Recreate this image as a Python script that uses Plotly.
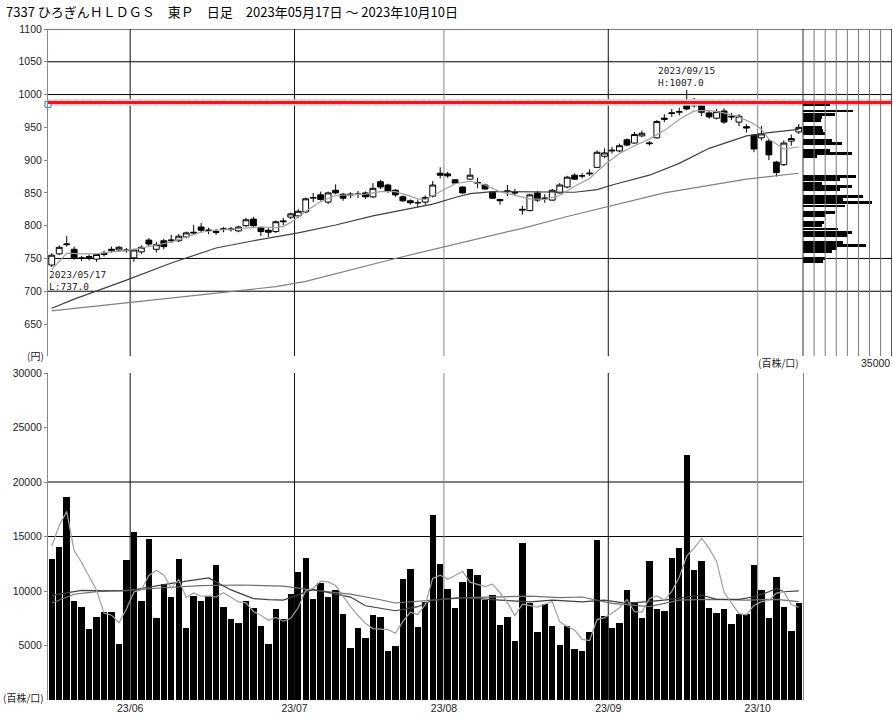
import numpy as np
import pandas as pd
import plotly.graph_objects as go

# ---------------- data ----------------
holidays = ["2023-07-17", "2023-08-11", "2023-09-18", "2023-10-09"]
dates = [d for d in pd.bdate_range("2023-05-17", "2023-10-10")
         if d.strftime("%Y-%m-%d") not in holidays]

open_ = [740,757,771,764,751,750,749,756,762,763, 763,751,760,778,764,777,777,777,783,790,
         798,793,791,794,794,792,800,810,797,793, 791,806,813,815,821,842,847,836,854,848,
         847,848,850,844,867,862,854,844,838,835, 836,845,880,879,870,859,871,866,862,851,
         840,852,851,825,823,850,841,839,850,859, 877,876,879,889,906,914,914,931,926,937,
         925,934,962,971,973,987,983,986,972,964, 975,967,958,951,938,934,929,897,893,929,
         943]
high = [758,770,784,768,754,756,757,762,768,769, 766,765,770,781,775,780,786,787,791,801,
        804,797,795,798,798,800,812,813,799,796, 808,812,820,825,843,850,852,852,863,850,
        851,853,852,865,870,864,856,846,840,840, 846,868,889,882,871,860,888,873,864,852,
        841,862,856,830,849,853,848,856,865,876, 880,880,886,915,918,920,925,933,943,945,
        929,961,970,978,980,1007,995,990,976,978, 979,972,970,955,940,952,932,899,930,939,
        955]
low = [737,755,768,748,746,747,745,753,759,760, 759,745,757,769,759,764,774,775,781,786,
       790,787,786,790,791,790,798,797,784,783, 789,801,810,812,819,836,838,833,848,838,
       842,842,841,842,856,850,844,836,832,828, 832,843,872,873,864,849,870,857,855,841,
       832,845,846,817,822,836,835,838,849,857, 870,872,876,888,903,910,912,921,925,935,
       922,933,958,966,968,976,980,967,963,962, 955,961,952,942,912,930,900,875,891,922,
       940]
close = [755,767,772,751,750,753,756,758,764,767, 762,763,767,772,771,768,778,784,789,789,
         793,793,790,795,795,798,809,800,791,790, 806,807,818,822,841,843,840,850,850,842,
         848,848,844,857,859,853,847,838,835,835, 843,862,877,876,865,850,877,865,856,842,
         838,853,850,824,847,839,842,854,862,874, 871,876,880,912,911,915,922,923,939,941,
         926,959,964,972,974,978,989,973,966,974, 958,966,967,949,917,940,908,881,926,933,
         950]
volume = [12900,14000,18600,9050,8550,6500,7650,8100,8100,5100,
          12800,15450,9050,14750,7500,10630,9410,12910,6600,9560,
          9100,9560,12430,8530,7400,7090,9100,8460,6800,5150,
          8350,7400,9750,11750,13070,9260,10690,9410,10080,7890,
          4750,6640,5670,7800,7640,4510,4960,11060,12060,6670,
          9010,17000,12520,10170,8460,10840,12060,11450,9170,9620,
          6880,7590,5450,14440,8920,6270,8800,6790,5050,6790,
          4660,4530,6270,14650,7700,6640,7090,10050,9010,7550,
          12760,8320,8190,13070,13980,22510,11910,12730,8410,8010,
          8320,6950,7860,7860,12340,10080,7490,11300,8500,6360,
          8920]

# price moving averages (day index -> value)
ma_s_idx = [0,1,2,4,6,8,10,12,14,16,18,20,22,24,26,28,30,31,32,34,36,38,40,42,44,46,48,49,50,52,
            54,56,58,60,62,64,66,68,70,72,74,75,76,78,80,82,84,86,88,90,92,94,95,96,98,100]
ma_s_val = [733,745,758,757,757,760,762,766,770,775,783,790,793,795,797,798,797,799,805,822,
            837,846,847,848,852,852,845,841,840,852,864,868,862,852,847,841,840,846,860,872,
            893,902,910,922,932,945,962,975,976,972,966,955,947,932,917,920]
ma_m_idx = [0,3,10,16,22,27,33,38,43,47,51,54,56,59,65,70,73,75,80,84,88,91,93,96,98,100]
ma_m_val = [674,688,717,743,766,777,789,801,815,824,833,843,849,852,851,851,855,862,877,895,
            918,930,937,942,945,947]
ma_l_idx = [0,10,20,30,34,46,63,69,82,93,100]
ma_l_val = [670,682,694,707,715,750,796,814,850,871,880]

# volume moving averages
vma_s = [14100,16000,17300,13700,12620,11340,10070,7970,7780,7090,
         8350,9910,10100,11430,11910,11480,10270,11040,9410,9820,
         9520,9550,9450,9840,9400,9000,8910,8120,7770,7320,
         7570,7230,7490,8480,10060,10250,10900,10840,10500,9470,
         8560,7750,7010,6550,6500,6450,6120,7190,8050,7850,
         8750,11160,11450,11070,11430,11800,10810,10600,10400,10630,
         9840,8940,7740,8800,8660,8530,8780,9040,7170,6740,
         6420,5560,5460,7380,7560,7960,8470,9230,8100,8070,
         9290,9540,9170,9970,11260,13210,13930,14840,13910,12710,
         9880,8880,7920,7810,8670,9020,9130,9810,9940,8750,
         8510]
vma_m_idx = [0,4,10,16,21,24,27,29,31,35,40,42,46,49,51,55,60,64,67,71,74,77,82,85,87,89,92,94,96,97,98,100]
vma_m_val = [9600,10050,10000,10700,11200,10100,9300,9200,9170,10150,9440,8650,8190,8560,9170,9400,
             9170,9000,9170,9000,9170,8860,9170,9470,9630,9230,9230,9470,9930,10240,9930,10020]
vma_l_idx = [0,3,6,10,15,20,25,31,35,40,44,46,51,55,60,64,68,71,75,80,84,88,93,97,100]
vma_l_val = [8900,9700,9950,10050,10300,10500,10550,10450,10080,9710,9200,8900,9170,9400,9470,
             9530,9400,9450,8860,8560,9170,9230,9170,9230,9020]

# price-by-volume profile (price bucket -> volume)
profile_price = [745,750,760,765,770,775,785,790,795,800,805,815,820,830,835,840,845,855,860,865,
                 870,875,905,910,915,925,930,940,945,950,960,965,970,975,985]
profile_vol = [7860,8760,11400,13360,24880,15960,17290,19380,14000,7600,8400,8760,12430,16620,27120,
               15960,23580,14660,19380,7600,14660,20950,5500,19380,10460,15320,11400,8760,7860,7600,
               7070,7500,12430,19900,10460]
profile_max = 35000
line_level = 988

price_ticks = [650, 700, 750, 800, 850, 900, 950, 1000, 1050, 1100]
price_grid = [1100, 1050, 1000, 750, 700]
vol_ticks = [5000, 10000, 15000, 20000, 25000, 30000]
vol_grid = [20000, 15000]

# ---------------- geometry ----------------
W, H = 893, 718
ML, MR, MT, MB = 48, 1, 29, 18
PW, PH = W - ML - MR, H - MT - MB
N = len(dates)
VOL_RIGHT = 802.5
SLOT = (VOL_RIGHT - ML) / N
XMAX = -0.5 + PW / SLOT
PROF0, PROF1 = 803.0, 891.7


def fx(px):
    return (px - ML) / PW


def fy(py):
    return (H - MB - py) / PH


s = profile_max / (PROF1 - PROF0)
x3_range = [-(PROF0 - ML) * s, (W - MR - PROF0) * s]

TICKFONT = dict(family="Liberation Sans, Arial, sans-serif", size=10.5, color="#222")
JP = "Noto Sans CJK JP"
MONO = "DejaVu Sans Mono"

xi = list(range(N))
fig = go.Figure()

# hatched band around the horizontal level
fig.add_trace(go.Scatter(
    x=[-0.5, XMAX, XMAX, -0.5, -0.5],
    y=[line_level - 5, line_level - 5, line_level + 5, line_level + 5, line_level - 5],
    fill="toself", mode="none", hoverinfo="skip",
    fillcolor="rgba(0,0,0,0)",
    fillpattern=dict(shape="/", fgcolor="#f2b36e", bgcolor="#bcdcf7", size=5, solidity=0.45),
    xaxis="x", yaxis="y"))

for idx, val, col in [(ma_l_idx, ma_l_val, "#808080"), (ma_m_idx, ma_m_val, "#404040"),
                      (ma_s_idx, ma_s_val, "#a0a0a0")]:
    fig.add_trace(go.Scatter(x=idx, y=val, mode="lines", line=dict(color=col, width=1.2),
                             hoverinfo="skip", xaxis="x", yaxis="y"))

fig.add_trace(go.Candlestick(
    x=xi, open=open_, high=high, low=low, close=close,
    increasing=dict(line=dict(color="black", width=1), fillcolor="white"),
    decreasing=dict(line=dict(color="black", width=1), fillcolor="black"),
    whiskerwidth=0, hoverinfo="skip", xaxis="x", yaxis="y"))

fig.add_trace(go.Bar(
    x=profile_vol, y=profile_price, orientation="h", base=0, width=4.4,
    marker=dict(color="black", line=dict(width=0)), hoverinfo="skip",
    xaxis="x3", yaxis="y"))

# volume
fig.add_trace(go.Bar(x=xi, y=volume, width=0.86, marker=dict(color="black", line=dict(width=0)),
                     hoverinfo="skip", xaxis="x2", yaxis="y2"))
fig.add_trace(go.Scatter(x=vma_l_idx, y=vma_l_val, mode="lines", line=dict(color="#707070", width=1.2),
                         hoverinfo="skip", xaxis="x2", yaxis="y2"))
fig.add_trace(go.Scatter(x=vma_m_idx, y=vma_m_val, mode="lines", line=dict(color="#404040", width=1.2),
                         hoverinfo="skip", xaxis="x2", yaxis="y2"))
fig.add_trace(go.Scatter(x=xi, y=vma_s, mode="lines", line=dict(color="#a0a0a0", width=1.2),
                         hoverinfo="skip", xaxis="x2", yaxis="y2"))

# marker at left edge
fig.add_trace(go.Scatter(x=[-0.5], y=[line_level - 3], mode="markers", cliponaxis=False,
                         marker=dict(symbol="square", size=6, color="white",
                                     line=dict(color="#3a78c8", width=1)),
                         hoverinfo="skip", xaxis="x", yaxis="y"))

shapes = []
for lv in price_grid:
    shapes.append(dict(type="line", xref="paper", x0=0, x1=1, yref="y", y0=lv, y1=lv,
                       line=dict(color="black", width=1), layer="below"))
for lv in vol_grid:
    shapes.append(dict(type="line", xref="x2 domain", x0=0, x1=1, yref="y2", y0=lv, y1=lv,
                       line=dict(color="black", width=1), layer="below"))
month_starts = [i for i in range(1, N) if dates[i].month != dates[i - 1].month]
month_cols = {6: "#111", 7: "#111", 8: "#888", 9: "#111", 10: "#888"}
for m in month_starts:
    c = month_cols.get(dates[m].month, "#111")
    shapes.append(dict(type="line", xref="x", x0=m - 0.5, x1=m - 0.5, yref="y domain", y0=0, y1=1,
                       line=dict(color=c, width=1), layer="below"))
    shapes.append(dict(type="line", xref="x2", x0=m - 0.5, x1=m - 0.5, yref="y2 domain", y0=0, y1=1,
                       line=dict(color=c, width=1), layer="below"))
for k in range(9):
    shapes.append(dict(type="line", xref="x3", x0=k * profile_max / 8, x1=k * profile_max / 8,
                       yref="y domain", y0=0, y1=1,
                       line=dict(color="#333" if k in (0, 8) else "#777", width=1), layer="above"))
shapes.append(dict(type="line", xref="paper", x0=0, x1=1, yref="y", y0=line_level, y1=line_level,
                   line=dict(color="#ff1010", width=3), layer="above"))

hi = int(np.argmax(high))
lo = int(np.argmin(low))
annotations = [
    dict(x=hi, y=high[hi], xref="x", yref="y", showarrow=False, xanchor="center", yanchor="bottom",
         align="left", text=f"{dates[hi]:%Y/%m/%d}<br>H:{high[hi]:.1f}",
         font=dict(family=MONO, size=9.5, color="#222"), yshift=0),
    dict(x=lo, y=low[lo], xref="x", yref="y", showarrow=False, xanchor="left", yanchor="top",
         align="left", text=f"{dates[lo]:%Y/%m/%d}<br>L:{low[lo]:.1f}",
         font=dict(family=MONO, size=9.5, color="#222"), xshift=-5),
    dict(x=fx(4), y=fy(11), xref="paper", yref="paper", showarrow=False, xanchor="left",
         yanchor="middle",
         text=f"7337 ひろぎんＨＬＤＧＳ　東Ｐ　日足　{dates[0]:%Y年%m月%d日} ～ {dates[-1]:%Y年%m月%d日}",
         font=dict(family=JP, size=13, color="black")),
    dict(x=fx(46), y=fy(355), xref="paper", yref="paper", showarrow=False, xanchor="right",
         yanchor="middle", text="(円)", font=dict(family=JP, size=10, color="#222")),
    dict(x=fx(801), y=fy(362), xref="paper", yref="paper", showarrow=False, xanchor="right",
         yanchor="middle", text="(百株/口)", font=dict(family=JP, size=10, color="#222")),
    dict(x=fx(892), y=fy(363), xref="paper", yref="paper", showarrow=False, xanchor="right",
         yanchor="middle", text=f"{profile_max}", font=TICKFONT),
    dict(x=fx(46), y=fy(697), xref="paper", yref="paper", showarrow=False, xanchor="right",
         yanchor="middle", text="(百株/口)", font=dict(family=JP, size=10, color="#222")),
]

fig.update_layout(
    width=W, height=H,
    margin=dict(l=ML, r=MR, t=MT, b=MB, autoexpand=False),
    paper_bgcolor="white", plot_bgcolor="white",
    showlegend=False, bargap=0, boxgap=0.22, boxgroupgap=0,
    shapes=shapes, annotations=annotations,
    xaxis=dict(domain=[0, 1], range=[-0.5, XMAX], showgrid=False, zeroline=False,
               showticklabels=False, ticks="", rangeslider=dict(visible=False), anchor="y"),
    yaxis=dict(domain=[fy(356), 1], range=[1100 - (356 - MT) / 0.6556, 1100], tickvals=price_ticks,
               showgrid=False, zeroline=False, showline=True, linecolor="#888", linewidth=1,
               ticks="outside", ticklen=3, tickcolor="#888", tickfont=TICKFONT, anchor="x"),
    xaxis2=dict(domain=[0, fx(VOL_RIGHT)], range=[-0.5, N - 0.5], anchor="y2",
                tickvals=[m - 0.5 for m in month_starts],
                ticktext=[f"{dates[m]:%y/%m}" for m in month_starts],
                ticks="", showgrid=False, zeroline=False, showline=False, tickfont=TICKFONT),
    yaxis2=dict(domain=[0, fy(373)], range=[0, 30000], anchor="x2", tickvals=vol_ticks,
                tickformat="d",
                showgrid=False, zeroline=False, showline=True, mirror=True, linecolor="#888",
                ticks="outside", ticklen=3, tickcolor="#888", tickfont=TICKFONT),
    xaxis3=dict(overlaying="x", anchor="y", range=x3_range, visible=False),
)

fig.write_html("out.html", config={"displayModeBar": False},
               post_script="document.body.style.margin='0px';document.body.style.overflow='hidden';")
